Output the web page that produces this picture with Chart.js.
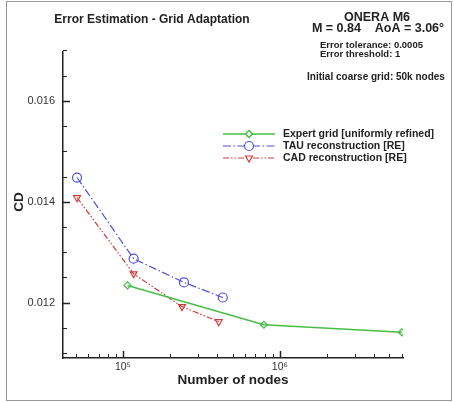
<!DOCTYPE html>
<html>
<head>
<meta charset="utf-8">
<script src="https://cdn.jsdelivr.net/npm/chart.js@4.4.1/dist/chart.umd.min.js"></script>
<style>
  html, body { margin: 0; padding: 0; background: #fff; }
  #wrap { position: relative; width: 454px; height: 402px; }
</style>
</head>
<body>
<div id="wrap"><canvas id="cdChart" width="454" height="402"></canvas></div>
<script>
// values
const expertNodes = [107000, 791000, 6000000];
const expertCD = [0.01234, 0.01156, 0.01141];
const tauNodes = [51000, 117000, 245000, 433000];
const tauCD = [0.01448, 0.01287, 0.0124, 0.0121];
const cadNodes = [51000, 117000, 238000, 408000];
const cadCD = [0.01408, 0.01257, 0.01192, 0.01162];

const seriesNames = [
  "Expert grid [uniformly refined]",
  "TAU reconstruction [RE]",
  "CAD reconstruction [RE]",
];

// axis ticks
const yTicks = [0.011, 0.0115, 0.012, 0.0125, 0.013, 0.0135, 0.014, 0.0145, 0.015, 0.0155, 0.016, 0.0165, 0.017];
const yTickLabels = [0.012, 0.014, 0.016];
const xTicks = [5e4, 6e4, 7e4, 8e4, 9e4, 1e5, 2e5, 3e5, 4e5, 5e5, 6e5, 7e5, 8e5, 9e5, 1e6, 2e6, 3e6, 4e6, 5e6, 6e6];
const xTickLabels = { 100000: "10\u2075", 1000000: "10\u2076" };

const green = "rgb(70,190,70)";
const blue = "rgb(80,80,215)";
const red = "rgb(205,60,60)";

const toPoints = (xs, ys) => xs.map((x, i) => ({ x: x, y: ys[i] }));

// inward tick marks, frame, titles and the legend
const decorations = {
  id: "decorations",
  afterDraw(chart) {
    const ctx = chart.ctx;
    const xs = chart.scales.x;
    const ys = chart.scales.y;
    const area = chart.chartArea;
    ctx.save();

    ctx.strokeStyle = "#222";
    yTicks.forEach((v) => {
      const py = Math.round(ys.getPixelForValue(v)) + 0.5;
      const major = yTickLabels.some((m) => Math.abs(m - v) < 1e-9);
      ctx.lineWidth = major ? 1.5 : 1;
      ctx.beginPath();
      ctx.moveTo(area.left, py);
      ctx.lineTo(area.left + (major ? 7 : 4), py);
      ctx.stroke();
    });
    xTicks.forEach((v) => {
      const px = Math.round(xs.getPixelForValue(v)) + 0.5;
      const major = xTickLabels[v] !== undefined;
      ctx.lineWidth = major ? 1.5 : 1;
      ctx.beginPath();
      ctx.moveTo(px, area.bottom);
      ctx.lineTo(px, area.bottom - (major ? 7 : 4));
      ctx.stroke();
    });

    // figure frame
    ctx.strokeStyle = "#999";
    ctx.lineWidth = 1;
    ctx.strokeRect(6.5, 1.5, 445, 399);

    ctx.fillStyle = "#222";
    ctx.textBaseline = "middle";
    ctx.textAlign = "center";
    ctx.font = "bold 12px 'Liberation Sans', Arial, sans-serif";
    ctx.fillText("Error Estimation - Grid Adaptation", 152, 20);
    ctx.font = "bold 12.5px 'Liberation Sans', Arial, sans-serif";
    ctx.fillText("ONERA M6", 377, 18);
    ctx.fillText("M = 0.84    AoA = 3.06\u00b0", 378, 29);
    ctx.font = "bold 13.5px 'Liberation Sans', Arial, sans-serif";
    ctx.fillText("Number of nodes", 233, 380);
    ctx.save();
    ctx.translate(19, 202);
    ctx.rotate(-Math.PI / 2);
    ctx.fillText("CD", 0, 0);
    ctx.restore();

    ctx.textAlign = "left";
    ctx.font = "bold 9.5px 'Liberation Sans', Arial, sans-serif";
    ctx.fillText("Error tolerance: 0.0005", 320, 45);
    ctx.fillText("Error threshold: 1", 320, 54);
    ctx.textAlign = "center";
    ctx.font = "bold 10px 'Liberation Sans', Arial, sans-serif";
    ctx.fillText("Initial coarse grid: 50k nodes", 376, 77);

    // legend
    ctx.font = "bold 10.5px 'Liberation Sans', Arial, sans-serif";
    chart.data.datasets.forEach((ds, i) => {
      const ly = 134 + i * 12;
      ctx.strokeStyle = ds.borderColor;
      ctx.lineWidth = ds.borderWidth;
      ctx.setLineDash(ds.borderDash || []);
      ctx.beginPath();
      ctx.moveTo(223, ly);
      ctx.lineTo(275, ly);
      ctx.stroke();
      ctx.setLineDash([]);
      ctx.fillStyle = "#fff";
      ctx.strokeStyle = ds.pointBorderColor;
      Chart.helpers.drawPoint(ctx, {
        pointStyle: ds.pointStyle,
        rotation: ds.pointRotation || 0,
        radius: ds.pointRadius,
        borderWidth: ds.pointBorderWidth,
      }, 249, ly);
      ctx.textAlign = "left";
      ctx.fillStyle = "#222";
      ctx.fillText(seriesNames[i], 283, ly + 0.5);
    });
    ctx.restore();
  },
};

new Chart(document.getElementById("cdChart"), {
  type: "line",
  data: {
    datasets: [
      {
        label: seriesNames[0],
        data: toPoints(expertNodes, expertCD),
        borderColor: green,
        backgroundColor: "rgba(255,255,255,0)",
        borderWidth: 1.5,
        pointStyle: "rectRot",
        pointRadius: 3.5,
        pointBorderWidth: 1.2,
        pointBackgroundColor: "rgba(255,255,255,0)",
        pointBorderColor: green,
      },
      {
        label: seriesNames[1],
        data: toPoints(tauNodes, tauCD),
        borderColor: blue,
        backgroundColor: "rgba(255,255,255,0)",
        borderWidth: 1.2,
        borderDash: [8, 2.5, 1.5, 2.5],
        pointStyle: "circle",
        pointRadius: 4.5,
        pointBorderWidth: 1.2,
        pointBackgroundColor: "rgba(255,255,255,0)",
        pointBorderColor: blue,
      },
      {
        label: seriesNames[2],
        data: toPoints(cadNodes, cadCD),
        borderColor: red,
        backgroundColor: "rgba(255,255,255,0)",
        borderWidth: 1.2,
        borderDash: [6, 2, 1.5, 2, 1.5, 2],
        pointStyle: "triangle",
        pointRotation: 180,
        pointRadius: 4,
        pointBorderWidth: 1.2,
        pointBackgroundColor: "rgba(255,255,255,0)",
        pointBorderColor: red,
      },
    ],
  },
  options: {
    responsive: false,
    animation: false,
    layout: { padding: { left: 0, right: 51, top: 52, bottom: 0 } },
    plugins: {
      legend: { display: false },
      tooltip: { enabled: false },
      title: { display: false },
    },
    scales: {
      x: {
        type: "logarithmic",
        min: 41500,
        max: 6100000,
        afterBuildTicks: (scale) => {
          scale.ticks = xTicks.map((v) => ({ value: v }));
        },
        afterFit: (scale) => {
          scale.height = 44;
        },
        grid: { display: false, drawTicks: false },
        border: { display: true, color: "#222", width: 1.5 },
        ticks: {
          autoSkip: false,
          maxRotation: 0,
          padding: 3,
          color: "#333",
          font: { family: "'Liberation Sans', Arial, sans-serif", size: 10.5 },
          callback: (v) => xTickLabels[v] || "",
        },
      },
      y: {
        type: "linear",
        min: 0.0109,
        max: 0.01697,
        afterBuildTicks: (scale) => {
          scale.ticks = yTicks.map((v) => ({ value: v }));
        },
        afterFit: (scale) => {
          scale.width = 63;
        },
        grid: { display: false, drawTicks: false },
        border: { display: true, color: "#222", width: 1.5 },
        ticks: {
          autoSkip: false,
          padding: 8,
          color: "#333",
          font: { family: "'Liberation Sans', Arial, sans-serif", size: 11 },
          callback: (v) =>
            yTickLabels.some((m) => Math.abs(m - v) < 1e-9) ? v.toFixed(3) : "",
        },
      },
    },
  },
  plugins: [decorations],
});
</script>
</body>
</html>
